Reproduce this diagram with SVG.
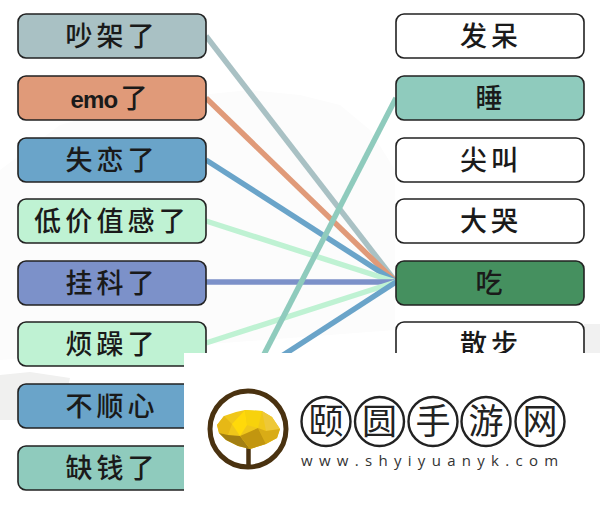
<svg xmlns="http://www.w3.org/2000/svg" width="604" height="510" viewBox="0 0 604 510">
<style>
.box{stroke:#222;stroke-width:1.6}
.t{font-family:"Noto Sans CJK SC","Noto Sans CJK JP",sans-serif;font-size:27px;font-weight:500;fill:#1a1a1a;text-anchor:middle;letter-spacing:4px}
.c{fill:none;stroke-width:5.5;stroke-linecap:butt}
.r{fill:#fff;stroke:#222;stroke-width:2.4}
.l{font-family:"Noto Sans CJK SC",sans-serif;font-size:35px;fill:#222;text-anchor:middle}
</style>
<rect width="604" height="510" fill="#fff"/>
<g id="background">
<path d="M0 170L60 125 150 100 250 90 300 95 340 105 370 130 395 170 395 330 0 360Z" fill="#fcfcfc"/>
<path d="M0 375L30 372 70 378 60 420 0 420Z" fill="#f0f0ef"/>
<rect x="584" y="324" width="16" height="30" fill="#f1f1f1"/>
</g>
<g id="connectors">
<line class="c" x1="206" y1="36" x2="396" y2="282" stroke="#a9c1c4"/>
<line class="c" x1="206" y1="98" x2="396" y2="282" stroke="#e09a79"/>
<line class="c" x1="206" y1="160" x2="396" y2="282" stroke="#6aa4c9"/>
<line class="c" x1="206" y1="221" x2="396" y2="282" stroke="#bff2d3"/>
<line class="c" x1="206" y1="282" x2="396" y2="282" stroke="#7c91c9"/>
<line class="c" x1="206" y1="343" x2="396" y2="282" stroke="#bff2d3"/>
<line class="c" x1="206" y1="405" x2="396" y2="282" stroke="#6aa4c9"/>
<line class="c" x1="206" y1="467" x2="396" y2="98" stroke="#8fcbbd"/>
</g>
<g id="n1"><rect class="box" x="18" y="14" width="188" height="44" rx="8" fill="#a9c1c4"/><text class="t" x="112" y="46">吵架了</text></g>
<g id="n2"><rect class="box" x="18" y="76" width="188" height="44" rx="8" fill="#e09a79"/><text class="t" x="111" y="108"><tspan font-family="'Liberation Sans',sans-serif" font-size="24" font-weight="700" letter-spacing="-0.8">emo</tspan><tspan dx="3">了</tspan></text></g>
<g id="n3"><rect class="box" x="18" y="138" width="188" height="44" rx="8" fill="#6aa4c9"/><text class="t" x="112" y="170">失恋了</text></g>
<g id="n4"><rect class="box" x="18" y="199" width="188" height="44" rx="8" fill="#bff2d3"/><text class="t" x="112" y="231" style="letter-spacing:4.2px">低价值感了</text></g>
<g id="n5"><rect class="box" x="18" y="261" width="188" height="44" rx="8" fill="#7c91c9"/><text class="t" x="112" y="293">挂科了</text></g>
<g id="n6"><rect class="box" x="18" y="322" width="188" height="44" rx="8" fill="#bff2d3"/><text class="t" x="112" y="354">烦躁了</text></g>
<g id="n7"><rect class="box" x="18" y="384" width="188" height="44" rx="8" fill="#6aa4c9"/><text class="t" x="112" y="416">不顺心</text></g>
<g id="n8"><rect class="box" x="18" y="446" width="188" height="44" rx="8" fill="#8fcbbd"/><text class="t" x="112" y="478">缺钱了</text></g>
<g id="m1"><rect class="box" x="396" y="14" width="188" height="44" rx="8" fill="#fff"/><text class="t" x="491" y="46">发呆</text></g>
<g id="m2"><rect class="box" x="396" y="76" width="188" height="44" rx="8" fill="#8fcbbd"/><text class="t" x="491" y="108">睡</text></g>
<g id="m3"><rect class="box" x="396" y="138" width="188" height="44" rx="8" fill="#fff"/><text class="t" x="491" y="170">尖叫</text></g>
<g id="m4"><rect class="box" x="396" y="199" width="188" height="44" rx="8" fill="#fff"/><text class="t" x="491" y="231">大哭</text></g>
<g id="m5"><rect class="box" x="396" y="261" width="188" height="44" rx="8" fill="#45905f"/><text class="t" x="491" y="293">吃</text></g>
<g id="m6"><rect class="box" x="396" y="322" width="188" height="44" rx="8" fill="#fff"/><text class="t" x="491" y="354">散步</text></g>
<g id="watermark">
<rect x="184" y="353" width="420" height="157" fill="#fff"/>
<circle cx="248" cy="429" r="38" fill="none" stroke="#4a3210" stroke-width="5"/>
<path d="M248.500 467V446" stroke="#4a3210" stroke-width="4.500"/>
<path d="M217 425L224 416 236 412 245 410 262 411 272 417 280 429 277 438 266 444 250 449 238 446 226 440 219 433Z" fill="#f0c71a"/>
<path d="M217 425L224 416 232 424 228 435 219 433Z" fill="#e6b816"/>
<path d="M232 424L245 410 247 425 240 436Z" fill="#ffd90a"/>
<path d="M245 410L262 411 258 428 247 425Z" fill="#f7d20c"/>
<path d="M262 411L272 417 280 429 266 431Z" fill="#eec838"/>
<path d="M266 431L280 429 277 438 266 444 258 428Z" fill="#d9ac16"/>
<path d="M219 433L228 435 240 436 250 449 238 446 226 440Z" fill="#a37f12"/>
<path d="M240 436L258 428 266 444 250 449Z" fill="#c2960f"/>
<g class="r"><circle cx="326" cy="421.500" r="24.500"/><circle cx="379.500" cy="421.500" r="24.500"/><circle cx="433" cy="421.500" r="24.500"/><circle cx="486" cy="421.500" r="24.500"/><circle cx="540" cy="421.500" r="24.500"/></g>
<text class="l" x="326" y="434">颐</text><text class="l" x="379.500" y="434">圆</text><text class="l" x="433" y="434">手</text><text class="l" x="486" y="434">游</text><text class="l" x="540" y="434">网</text>
<text x="301" y="466" font-family="'Open Sans',sans-serif" font-size="15" fill="#333" letter-spacing="6.300">www.shyiyuanyk.com</text>
</g>
</svg>
